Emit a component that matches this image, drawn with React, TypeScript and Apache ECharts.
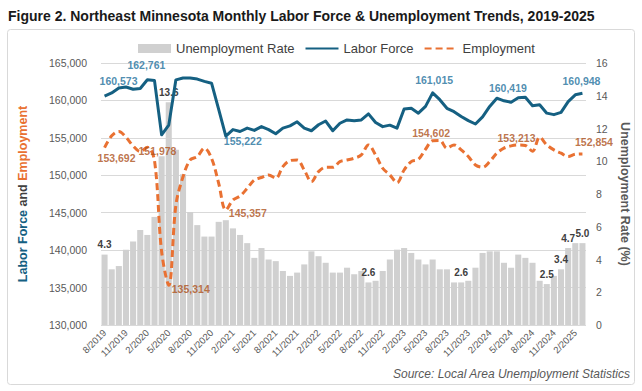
import React, { useEffect, useRef } from "react";
import * as echarts from "echarts";

const months = [
  "8/2019", "9/2019", "10/2019", "11/2019", "12/2019",
  "1/2020", "2/2020", "3/2020", "4/2020", "5/2020", "6/2020", "7/2020", "8/2020", "9/2020", "10/2020", "11/2020", "12/2020",
  "1/2021", "2/2021", "3/2021", "4/2021", "5/2021", "6/2021", "7/2021", "8/2021", "9/2021", "10/2021", "11/2021", "12/2021",
  "1/2022", "2/2022", "3/2022", "4/2022", "5/2022", "6/2022", "7/2022", "8/2022", "9/2022", "10/2022", "11/2022", "12/2022",
  "1/2023", "2/2023", "3/2023", "4/2023", "5/2023", "6/2023", "7/2023", "8/2023", "9/2023", "10/2023", "11/2023", "12/2023",
  "1/2024", "2/2024", "3/2024", "4/2024", "5/2024", "6/2024", "7/2024", "8/2024", "9/2024", "10/2024", "11/2024", "12/2024",
  "1/2025", "2/2025", "3/2025",
];

const unemploymentRate = [
  4.3, 3.4, 3.6, 4.6, 5.1,
  5.8, 5.5, 6.6, 10.3, 13.6, 10.7, 9.2, 6.9, 6.1, 5.4, 5.4, 6.3,
  6.4, 5.9, 5.5, 5.0, 4.1, 4.7, 4.0, 3.9, 3.3, 3.0, 3.2, 3.7,
  4.5, 4.2, 3.8, 3.2, 3.2, 3.5, 3.1, 3.3, 2.6, 2.7, 3.3, 4.0,
  4.6, 4.7, 4.4, 4.0, 3.7, 4.0, 3.4, 3.4, 2.6, 2.6, 2.7, 3.5,
  4.4, 4.5, 4.5, 3.8, 3.5, 4.3, 4.1, 3.8, 2.7, 2.5, 3.0, 3.4,
  4.7, 5.0, 5.0,
];

const laborForce = [
  160573, 161000, 161650, 161800, 161500,
  161600, 162761, 162650, 155400, 156700, 162750, 163000, 163000, 162850, 162550, 162300, 158800,
  155222, 156100, 155850, 156300, 156000, 156500, 156100, 155550, 156300, 156600, 157150, 156300,
  155950, 156750, 157250, 155950, 156950, 157400, 157300, 157400, 158200, 157050, 156500, 156700,
  156300, 158850, 158950, 158300, 159200, 161015, 160100, 158950, 158500, 157850, 157300, 156850,
  157800, 159200, 160300, 159950, 159750, 160350, 160419, 159300, 159420, 158300, 158100, 158400,
  159850, 160750, 160948,
];

const employment = [
  153692, 155270, 155850, 155090, 153930,
  153170, 153750, 151978, 139800, 135314, 146000, 149800, 152050, 152500, 153620, 152270, 148930,
  145357, 146700, 147230, 148260, 149380, 149700, 150040, 149600, 151160, 151960, 152050, 150710,
  149150, 150490, 151070, 151070, 151830, 152050, 152280, 152720, 154060, 152720, 150940, 150040,
  149020, 150710, 151830, 152140, 153480, 154602, 154650, 153620, 154060, 153390, 152500, 151380,
  151070, 151830, 152950, 153620, 153930, 154060, 153990, 153213, 155090, 154060, 153390, 152950,
  152500, 152810, 152854,
];

// indices of labelled points
const rateLabelIdx = [0, 9, 37, 50, 62, 64, 65, 67];
const lfLabelIdx = [0, 6, 17, 46, 59, 67];
const empLabelIdx = [0, 7, 9, 17, 46, 60, 67];

// label offsets (style)
const lfLabelOffsets: Record<number, number[]> = {
  0: [14, -15], 6: [-1, -14.5], 17: [17, 5], 46: [1.5, -13], 59: [-17.5, -9], 67: [-1, -12],
};
const empLabelOffsets: Record<number, number[]> = {
  0: [12, 10], 7: [3, -9], 9: [22, 4], 17: [22, 3], 46: [-1.5, -8], 60: [-16, -13.5], 67: [11.5, -12],
};

const TITLE = "Figure 2. Northeast Minnesota Monthly Labor Force & Unemployment Trends, 2019-2025";
const SOURCE = "Source: Local Area Unemployment Statistics";

const FONT = '"Liberation Sans", Arial, sans-serif';
const BLUE = "#156082";
const ORANGE = "#E97132";
const BLUE_LABEL = "#22709c";
const ORANGE_LABEL = "#ad521b";
const GRAY_TEXT = "#595959";

function fmt(v: number) {
  return v.toLocaleString("en-US");
}

export default function App() {
  const ref = useRef<HTMLDivElement>(null);

  useEffect(() => {
    if (!ref.current) return;
    const chart = echarts.init(ref.current, undefined, { renderer: "svg" });

    const option: any = {
      animation: false,
      backgroundColor: "#ffffff",
      textStyle: { fontFamily: FONT },
      graphic: [
        {
          type: "rect",
          shape: { x: 7.5, y: 29.5, width: 627, height: 355, r: 3 },
          style: { fill: "none", stroke: "#d9d9d9", lineWidth: 1 },
          z: -10,
          silent: true,
        },
        {
          type: "text",
          x: 8,
          y: 16,
          style: {
            text: TITLE,
            fontFamily: FONT,
            fontSize: 14,
            fontWeight: "bold",
            fill: "#1a1a1a",
            textAlign: "left",
            textVerticalAlign: "middle",
            align: "left",
            verticalAlign: "middle",
          },
        },
        {
          type: "text",
          x: 630,
          y: 374,
          style: {
            text: SOURCE,
            fontFamily: FONT,
            fontSize: 12,
            fontStyle: "italic",
            fill: GRAY_TEXT,
            textAlign: "right",
            textVerticalAlign: "middle",
            align: "right",
            verticalAlign: "middle",
          },
        },
      ],
      legend: {
        top: 37,
        left: 133,
        itemWidth: 33,
        itemHeight: 9,
        itemGap: 10,
        textStyle: { fontSize: 13, color: "#404040", fontFamily: FONT },
        data: [
          { name: "Unemployment Rate", icon: "rect" },
          { name: "Labor Force", itemStyle: { opacity: 0 } },
          { name: "Employment", itemStyle: { opacity: 0 } },
        ],
      },
      grid: { left: 101, right: 56, top: 63, bottom: 66 },
      xAxis: {
        type: "category",
        data: months,
        axisLine: { show: false },
        axisTick: { show: false },
        axisLabel: {
          interval: 2,
          rotate: 45,
          fontSize: 9.5,
          color: GRAY_TEXT,
          margin: 6,
        },
      },
      yAxis: [
        {
          type: "value",
          min: 130000,
          max: 165000,
          interval: 5000,
          position: "left",
          axisLine: { show: false },
          axisTick: { show: false },
          splitLine: { lineStyle: { color: "#d9d9d9" } },
          axisLabel: { formatter: (v: number) => fmt(v), fontSize: 10.5, color: GRAY_TEXT, margin: 14 },
          name: "{a|Labor Force} {b|and} {c|Employment}",
          nameLocation: "middle",
          nameRotate: 90,
          nameGap: 72,
          nameTextStyle: {
            fontWeight: "bold",
            fontSize: 12.5,
            rich: {
              a: { color: BLUE, fontWeight: "bold", fontSize: 12.5 },
              b: { color: "#404040", fontWeight: "bold", fontSize: 12.5 },
              c: { color: ORANGE, fontWeight: "bold", fontSize: 12.5 },
            },
          },
        },
        {
          type: "value",
          min: 0,
          max: 16,
          interval: 2,
          position: "right",
          axisLine: { show: false },
          axisTick: { show: false },
          splitLine: { show: false },
          axisLabel: { fontSize: 10.5, color: GRAY_TEXT, margin: 10 },
          name: "Unemployment Rate (%)",
          nameLocation: "middle",
          nameRotate: -90,
          nameGap: 30,
          nameTextStyle: { fontWeight: "bold", fontSize: 12.5, color: GRAY_TEXT },
        },
      ],
      series: [
        {
          name: "Unemployment Rate",
          type: "bar",
          yAxisIndex: 1,
          barCategoryGap: "15%",
          itemStyle: { color: "#d0d0d0" },
          label: {
            show: false,
            position: "top",
            distance: 5,
            fontSize: 10,
            fontWeight: "bold",
            color: "#404040",
            formatter: (p: any) => Number(p.value).toFixed(1),
          },
          data: unemploymentRate.map((v, i) =>
            rateLabelIdx.includes(i) ? { value: v, label: { show: true } } : { value: v }
          ),
          z: 1,
        },
        {
          name: "Labor Force",
          type: "line",
          yAxisIndex: 0,
          data: laborForce,
          symbol: "none",
          lineStyle: { color: BLUE, width: 3, join: "round" },
          itemStyle: { color: BLUE },
          z: 3,
        },
        {
          name: "Employment",
          type: "line",
          yAxisIndex: 0,
          data: employment,
          symbol: "none",
          smooth: 0.35,
          lineStyle: { color: ORANGE, width: 3, type: [7, 4] },
          itemStyle: { color: ORANGE },
          z: 3,
        },
        {
          name: "lfLabels",
          type: "scatter",
          yAxisIndex: 0,
          symbolSize: 1,
          silent: true,
          itemStyle: { color: "rgba(0,0,0,0)" },
          label: {
            show: true,
            position: "inside",
            fontSize: 10.5,
            fontWeight: "bold",
            color: BLUE_LABEL,
            formatter: (p: any) => fmt(p.value[1]),
          },
          data: lfLabelIdx.map((i) => ({
            value: [i, laborForce[i]],
            label: { offset: lfLabelOffsets[i] },
          })),
          z: 5,
        },
        {
          name: "empLabels",
          type: "scatter",
          yAxisIndex: 0,
          symbolSize: 1,
          silent: true,
          itemStyle: { color: "rgba(0,0,0,0)" },
          label: {
            show: true,
            position: "inside",
            fontSize: 10.5,
            fontWeight: "bold",
            color: ORANGE_LABEL,
            formatter: (p: any) => fmt(p.value[1]),
          },
          data: empLabelIdx.map((i) => ({
            value: [i, employment[i]],
            label: { offset: empLabelOffsets[i] },
          })),
          z: 5,
        },
      ],
    };

    chart.setOption(option);
    return () => {
      chart.dispose();
    };
  }, []);

  return (
    <div
      ref={ref}
      style={{ position: "fixed", left: 0, top: 0, width: 642, height: 391 }}
    />
  );
}
